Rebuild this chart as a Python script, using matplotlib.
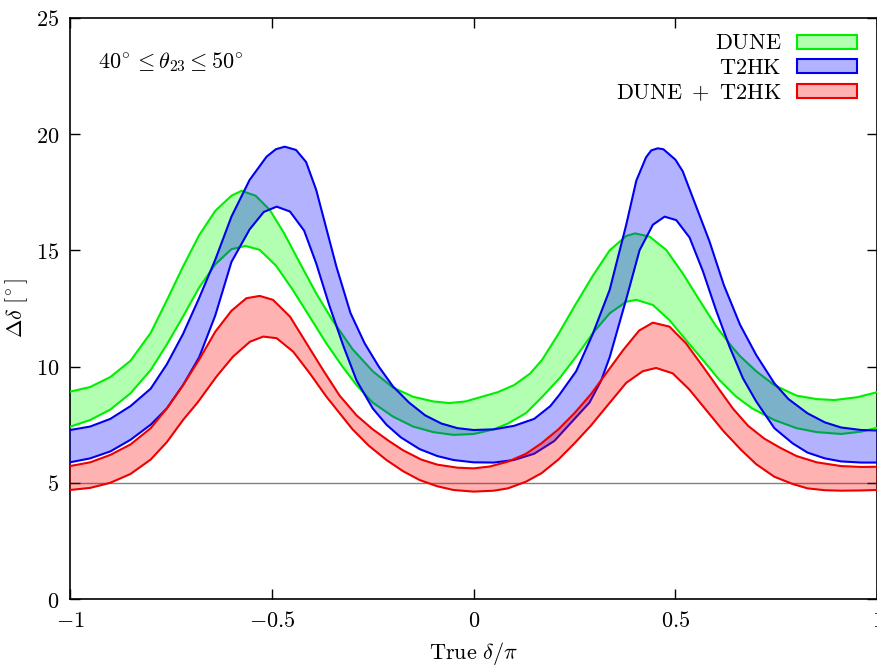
import numpy as np
import matplotlib
matplotlib.use("Agg")
import matplotlib.pyplot as plt
from matplotlib.patches import Patch

plt.rcParams['mathtext.fontset'] = 'cm'
plt.rcParams['font.family'] = ['DejaVu Serif']

# ---------------- data ----------------
dune_up_x = [-1.0, -0.95, -0.90, -0.85, -0.80, -0.76, -0.72, -0.68, -0.64, -0.60, -0.575, -0.54,
             -0.505, -0.47, -0.43, -0.39, -0.35, -0.30, -0.25, -0.20, -0.15, -0.10, -0.06, -0.02,
             0.02, 0.06, 0.10, 0.14, 0.17, 0.21, 0.25, 0.295, 0.337, 0.378, 0.40, 0.436, 0.477,
             0.518, 0.559, 0.60, 0.64, 0.66, 0.70, 0.745, 0.80, 0.85, 0.894, 0.95, 1.0]
dune_up_y = [8.92, 9.12, 9.55, 10.25, 11.45, 12.85, 14.3, 15.65, 16.7, 17.35, 17.56, 17.35,
             16.74, 15.75, 14.44, 13.15, 12.0, 10.75, 9.8, 9.1, 8.7, 8.5, 8.43, 8.5,
             8.7, 8.9, 9.2, 9.7, 10.3, 11.4, 12.6, 13.9, 15.0, 15.62, 15.73, 15.59, 15.02,
             14.01, 12.87, 11.75, 10.85, 10.45, 9.8, 9.2, 8.75, 8.6, 8.56, 8.68, 8.9]

dune_lo_x = [-1.0, -0.95, -0.90, -0.85, -0.80, -0.76, -0.72, -0.68, -0.64, -0.60, -0.565, -0.53,
             -0.49, -0.45, -0.41, -0.365, -0.325, -0.29, -0.25, -0.20, -0.15, -0.10, -0.05, 0.0,
             0.05, 0.085, 0.13, 0.17, 0.213, 0.254, 0.295, 0.337, 0.378, 0.403, 0.444, 0.485,
             0.526, 0.568, 0.609, 0.65, 0.69, 0.745, 0.80, 0.85, 0.91, 0.96, 1.0]
dune_lo_y = [7.41, 7.7, 8.15, 8.85, 9.85, 10.95, 12.15, 13.4, 14.4, 15.05, 15.19, 15.02,
             14.35, 13.35, 12.25, 11.0, 10.0, 9.2, 8.45, 7.85, 7.42, 7.18, 7.06, 7.1,
             7.3, 7.55, 8.0, 8.7, 9.5, 10.43, 11.43, 12.29, 12.79, 12.87, 12.65, 12.0,
             11.14, 10.28, 9.42, 8.71, 8.2, 7.7, 7.35, 7.18, 7.10, 7.2, 7.37]

t2hk_up_x = [-1.0, -0.95, -0.90, -0.85, -0.80, -0.76, -0.72, -0.68, -0.64, -0.60, -0.555, -0.513,
             -0.49, -0.468, -0.44, -0.415, -0.39, -0.365, -0.34, -0.305, -0.27, -0.235, -0.20,
             -0.16, -0.12, -0.08, -0.04, 0.0, 0.05, 0.10, 0.15, 0.19, 0.213, 0.254, 0.295, 0.337,
             0.378, 0.403, 0.427, 0.44, 0.456, 0.47, 0.50, 0.518, 0.551, 0.584, 0.62, 0.66, 0.70,
             0.745, 0.78, 0.827, 0.87, 0.91, 0.96, 1.0]
t2hk_up_y = [7.27, 7.42, 7.75, 8.3, 9.05, 10.1, 11.4, 12.95, 14.6, 16.45, 18.03, 19.03,
             19.35, 19.46, 19.32, 18.8, 17.6, 15.95, 14.3, 12.3, 11.0, 10.0, 9.15,
             8.45, 7.9, 7.55, 7.35, 7.27, 7.3, 7.45, 7.75, 8.3, 8.8, 9.8, 11.4, 13.3,
             16.1, 18.0, 19.0, 19.3, 19.39, 19.35, 18.9, 18.4, 16.9, 15.4, 13.5, 11.8, 10.5,
             9.28, 8.6, 7.99, 7.6, 7.38, 7.27, 7.25]

t2hk_lo_x = [-1.0, -0.95, -0.90, -0.85, -0.80, -0.76, -0.72, -0.68, -0.64, -0.60, -0.555, -0.52,
             -0.488, -0.455, -0.42, -0.39, -0.357, -0.323, -0.29, -0.25, -0.216, -0.18, -0.134,
             -0.09, -0.05, 0.0, 0.05, 0.10, 0.15, 0.20, 0.25, 0.287, 0.316, 0.337, 0.378, 0.411,
             0.444, 0.473, 0.502, 0.535, 0.568, 0.601, 0.634, 0.667, 0.70, 0.745, 0.79, 0.827,
             0.87, 0.91, 0.96, 1.0]
t2hk_lo_y = [5.88, 6.05, 6.35, 6.85, 7.5, 8.2, 9.2, 10.4, 12.2, 14.5, 15.9, 16.65,
             16.88, 16.67, 15.85, 14.44, 12.6, 10.9, 9.4, 8.2, 7.5, 6.95, 6.45,
             6.15, 5.98, 5.88, 5.87, 5.98, 6.25, 6.8, 7.75, 8.45, 9.4, 10.4, 12.9, 15.0,
             16.1, 16.45, 16.3, 15.55, 14.1, 12.4, 10.85, 9.5, 8.5, 7.35, 6.7, 6.3,
             6.05, 5.92, 5.87, 5.87]

comb_up_x = [-1.0, -0.95, -0.90, -0.85, -0.80, -0.76, -0.72, -0.68, -0.64, -0.60, -0.563, -0.53,
             -0.497, -0.455, -0.414, -0.373, -0.332, -0.29, -0.25, -0.21, -0.175, -0.13, -0.09,
             -0.04, 0.0, 0.04, 0.085, 0.13, 0.168, 0.21, 0.25, 0.29, 0.33, 0.37, 0.41, 0.444,
             0.485, 0.526, 0.568, 0.609, 0.642, 0.68, 0.72, 0.76, 0.80, 0.85, 0.91, 0.96, 1.0]
comb_up_y = [5.72, 5.88, 6.2, 6.65, 7.35, 8.2, 9.2, 10.3, 11.5, 12.4, 12.94, 13.04,
             12.87, 12.15, 11.0, 9.85, 8.75, 7.9, 7.3, 6.8, 6.4, 6.0, 5.78,
             5.65, 5.62, 5.7, 5.91, 6.25, 6.7, 7.3, 8.0, 8.8, 9.75, 10.7, 11.55, 11.89,
             11.72, 11.0, 10.0, 9.0, 8.2, 7.45, 6.9, 6.5, 6.15, 5.88, 5.72, 5.68, 5.69]

comb_lo_x = [-1.0, -0.95, -0.90, -0.85, -0.80, -0.76, -0.72, -0.684, -0.637, -0.596, -0.554,
             -0.521, -0.488, -0.447, -0.406, -0.365, -0.33, -0.30, -0.26, -0.216, -0.175, -0.134,
             -0.09, -0.05, 0.0, 0.05, 0.085, 0.13, 0.168, 0.21, 0.25, 0.29, 0.328, 0.378, 0.419,
             0.452, 0.493, 0.535, 0.576, 0.62, 0.663, 0.70, 0.745, 0.79, 0.827, 0.87, 0.91,
             0.96, 1.0]
comb_lo_y = [4.69, 4.78, 5.0, 5.38, 6.0, 6.75, 7.7, 8.45, 9.57, 10.43, 11.07,
             11.29, 11.22, 10.64, 9.71, 8.71, 7.95, 7.3, 6.6, 5.98, 5.5, 5.12,
             4.85, 4.69, 4.62, 4.66, 4.76, 5.05, 5.41, 6.0, 6.7, 7.45, 8.25, 9.3, 9.8,
             9.94, 9.71, 9.0, 8.13, 7.2, 6.41, 5.8, 5.26, 4.95, 4.76, 4.68, 4.66,
             4.67, 4.69]

labels = [r'$\mathrm{DUNE}$', r'$\mathrm{T2HK}$', r'$\mathrm{DUNE}\ +\ \mathrm{T2HK}$']
colors = ['#00ee00', '#0000ee', '#ee0000']
fills = [(0, 1, 0, 0.3), (0, 0, 1, 0.3), (1, 0, 0, 0.3)]
x_ticks = [-1, -0.5, 0, 0.5, 1]
x_ticklabels = [r'$-1$', r'$-0.5$', r'$0$', r'$0.5$', r'$1$']
y_ticks = [0, 5, 10, 15, 20, 25]
y_ticklabels = [r'$0$', r'$5$', r'$10$', r'$15$', r'$20$', r'$25$']
ref_level = 5

# ---------------- figure ----------------
fig = plt.figure(figsize=(8.78, 6.71), dpi=100)
ax = fig.add_axes([0.0797, 0.1073, 0.9195, 0.866])

bands = [(dune_up_x, dune_up_y, dune_lo_x, dune_lo_y),
         (t2hk_up_x, t2hk_up_y, t2hk_lo_x, t2hk_lo_y),
         (comb_up_x, comb_up_y, comb_lo_x, comb_lo_y)]

ax.axhline(ref_level, color='#808080', lw=1.0, zorder=1)

for i, (ux, uy, lx, ly) in enumerate(bands):
    px = np.concatenate([ux, lx[::-1]])
    py = np.concatenate([uy, ly[::-1]])
    z = 2 + 2 * i
    ax.fill(px, py, color=fills[i], lw=0, zorder=z)
    ax.plot(ux, uy, color=colors[i], lw=1.5, zorder=z + 1, solid_joinstyle='round')
    ax.plot(lx, ly, color=colors[i], lw=1.5, zorder=z + 1, solid_joinstyle='round')

ax.set_xlim(-1, 1)
ax.set_ylim(0, 25)
ax.set_xticks(x_ticks)
ax.set_xticklabels(x_ticklabels)
ax.set_yticks(y_ticks)
ax.set_yticklabels(y_ticklabels)
ax.tick_params(direction='in', length=7, width=1, top=True, right=True,
               labelsize=16, pad=8)
for s in ax.spines.values():
    s.set_linewidth(1.2)

ax.set_xlabel(r'$\mathrm{True}\ \delta/\pi$', fontsize=16, labelpad=6)
ax.set_ylabel(r'$\Delta\delta\ [^{\!\circ}]$', fontsize=16, labelpad=4)

ax.text(-0.93, 23.1, r'$40^{\!\circ} \leq \theta_{23} \leq 50^{\!\circ}$', fontsize=16,
        va='center', ha='left')

handles = [Patch(facecolor=fills[i], edgecolor=colors[i], lw=1.5) for i in range(3)]
ax.legend(handles, labels, loc='upper right', bbox_to_anchor=(0.975, 0.975),
          frameon=False, markerfirst=False, fontsize=16, handlelength=2.7,
          handleheight=0.6, labelspacing=0.12, handletextpad=0.7, borderpad=0,
          borderaxespad=0)

fig.savefig('out.png', dpi=100)
